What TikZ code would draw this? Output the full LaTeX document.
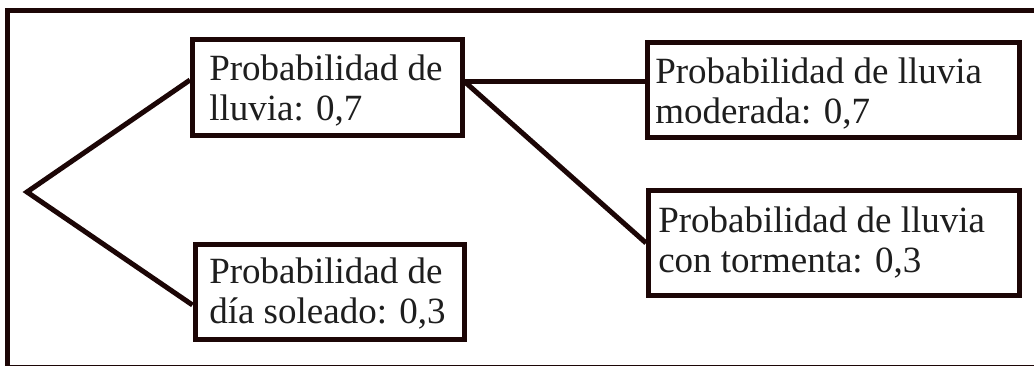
\documentclass[tikz,border=0pt]{standalone}
\usepackage{fontspec}
\setmainfont{Liberation Serif}
\usetikzlibrary{calc}
\definecolor{framecol}{HTML}{1C0606}
\definecolor{txtcol}{HTML}{1E1E1E}
\tikzset{
  px/.style={x=0.75pt,y=-0.75pt},
  boxnode/.style={draw=framecol,line width=3.75pt,inner sep=0pt,rectangle},
  txtnode/.style={inner sep=0pt,anchor=base west,text=txtcol,font=\fontsize{27.75pt}{29.6pt}\selectfont},
  link/.style={draw=framecol,line width=3.75pt,line join=miter,line cap=butt}
}
\newcommand{\twolines}[2]{\parbox[t]{400pt}{#1\\#2}}
\begin{document}
\begin{tikzpicture}[px]
\useasboundingbox (0,0) rectangle (1034,366);
\clip (0,0) rectangle (1034,366);
\fill[white] (0,0) rectangle (1034,366);
% outer frame
\draw[draw=framecol,line width=3.75pt] (7.5,10.5) rectangle (1040,367.5);
% boxes
\node[boxnode,minimum width=270*0.75pt,minimum height=96*0.75pt] (A) at (327.5,87.5) {};
\node[boxnode,minimum width=269.5*0.75pt,minimum height=95*0.75pt] (B) at (329.75,292) {};
\node[boxnode,minimum width=372*0.75pt,minimum height=95*0.75pt] (C) at (833.5,90) {};
\node[boxnode,minimum width=371*0.75pt,minimum height=105*0.75pt] (D) at (834,243) {};
% texts
\node[txtnode] (At) at (209,81) {\twolines{Probabilidad de}{lluvia: 0,7}};
\node[txtnode] (Bt) at (209,284) {\twolines{Probabilidad de}{día soleado: 0,3}};
\node[txtnode] (Ct) at (655,84) {\twolines{Probabilidad de lluvia}{moderada: 0,7}};
\node[txtnode] (Dt) at (658,233) {\twolines{Probabilidad de lluvia}{con tormenta: 0,3}};
% connectors
\coordinate (R) at (27,192);
\coordinate (J) at ($(A.east)+(0,-5.5)$);
\draw[link] ($(A.west)+(0,-7.5)$) -- (R) -- ($(B.west)+(0,13)$);
\draw[link] (J) -- (J -| C.west);
\draw[link] (J) -- (D.west);
\end{tikzpicture}
\end{document}
